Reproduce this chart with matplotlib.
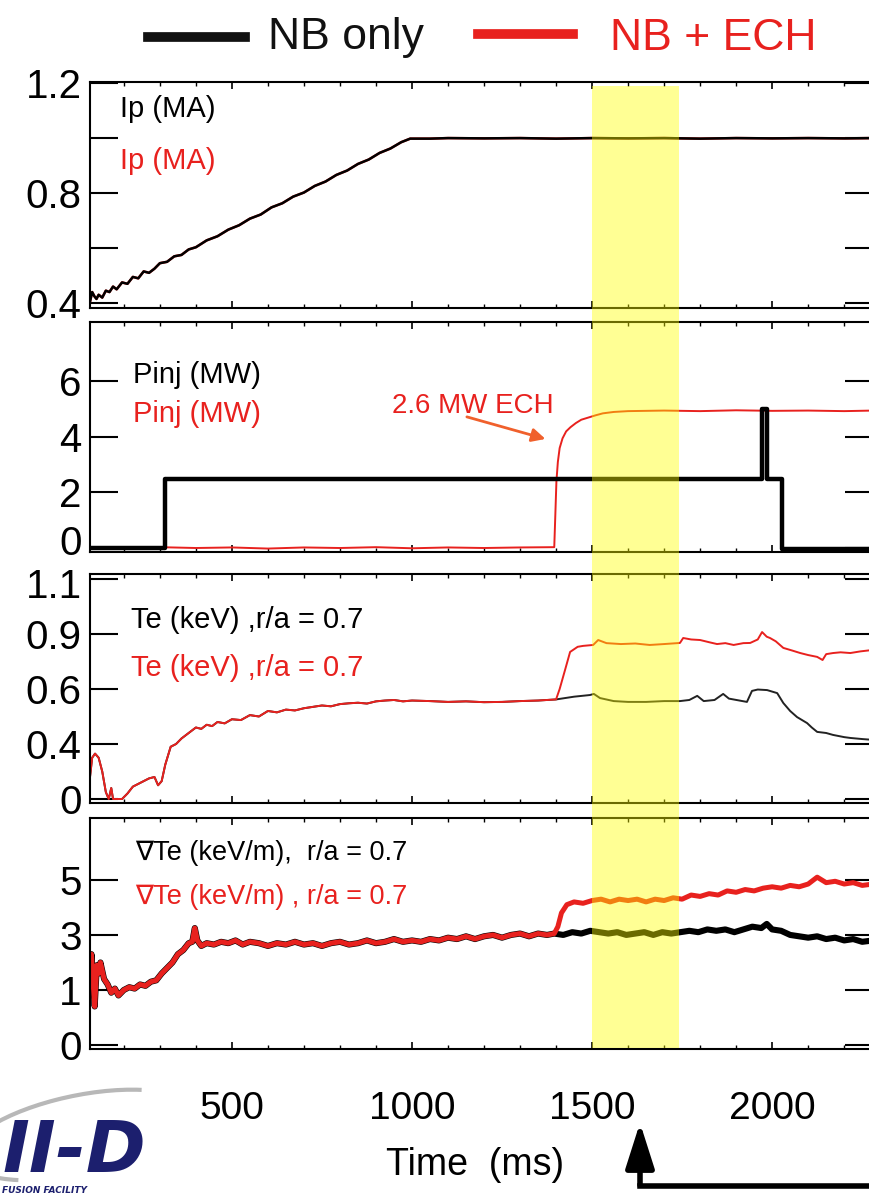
import numpy as np
import matplotlib
matplotlib.use('Agg')
import matplotlib.pyplot as plt
from matplotlib.lines import Line2D
from matplotlib.patches import Rectangle, FancyArrowPatch, Arc
from matplotlib.ticker import MultipleLocator
from matplotlib.transforms import blended_transform_factory, ScaledTranslation

W, H = 869, 1196
RED = '#e8211e'
NAVY = '#1c1f6e'
plt.rcParams['font.family'] = ['Liberation Sans', 'DejaVu Sans']

# ---- data (time in ms) ----
ip_t = [106, 112, 118, 124, 130, 140, 150, 160, 170, 180, 195, 210, 225, 240, 255,
        270, 285, 300, 320, 340, 360, 380, 400, 430, 460, 490, 520, 550, 580, 610,
        640, 670, 700, 730, 760, 790, 820, 850, 880, 910, 940, 970, 995, 1050, 1100,
        1200, 1300, 1400, 1500, 1600, 1700, 1800, 1900, 2000, 2100, 2200, 2280]
ip = [0.405, 0.44, 0.425, 0.415, 0.43, 0.42, 0.445, 0.44, 0.46, 0.45, 0.475, 0.47,
      0.495, 0.49, 0.515, 0.51, 0.525, 0.545, 0.55, 0.57, 0.575, 0.595, 0.603, 0.628,
      0.643, 0.667, 0.683, 0.707, 0.722, 0.748, 0.763, 0.787, 0.802, 0.826, 0.842,
      0.866, 0.882, 0.906, 0.922, 0.946, 0.962, 0.985, 0.998, 0.998, 1.0, 0.999, 1.0,
      0.998, 1.0, 0.999, 1.0, 0.998, 1.0, 0.999, 1.0, 0.999, 1.0]

pinj_nb_t = [106, 315, 1972, 1986, 2028, 2280]
pinj_nb = [0.0, 2.5, 5.0, 2.5, -0.05, -0.05]

pinj_ech_t = [106, 200, 300, 400, 500, 600, 700, 800, 900, 1000, 1100, 1200, 1300, 1395,
              1398, 1401, 1405, 1410, 1418, 1428, 1440, 1455, 1470, 1490, 1510, 1530,
              1560, 1600, 1700, 1800, 1900, 2000, 2100, 2200, 2280]
pinj_ech = [0.02, -0.02, 0.03, 0.0, 0.02, -0.02, 0.02, 0.0, 0.03, -0.01, 0.02, 0.0, 0.02,
            0.03, 1.2, 2.4, 3.1, 3.6, 3.95, 4.2, 4.35, 4.5, 4.62, 4.7, 4.78, 4.85, 4.9,
            4.93, 4.95, 4.93, 4.96, 4.94, 4.95, 4.93, 4.95]

# Te (keV), common part before ECH
te_t0 = [106, 112, 120, 130, 140, 150, 158, 165, 170, 180, 195, 210, 225, 240, 255, 270,
         285, 295, 305, 315, 330, 345, 360, 380, 400, 415, 430, 445, 460, 480, 500, 525,
         550, 575, 600, 625, 650, 675, 700, 725, 750, 775, 800, 825, 850, 875, 900, 925,
         950, 975, 1000, 1050, 1100, 1150, 1200, 1250, 1300, 1350, 1400]
te_0 = [0.16, 0.30, 0.33, 0.30, 0.20, 0.05, 0.0, 0.08, 0.0, 0.0, 0.0, 0.04, 0.09, 0.11,
        0.13, 0.15, 0.16, 0.10, 0.13, 0.25, 0.38, 0.40, 0.42, 0.44, 0.46, 0.455, 0.47,
        0.465, 0.48, 0.475, 0.49, 0.487, 0.505, 0.50, 0.52, 0.515, 0.525, 0.522, 0.53,
        0.535, 0.54, 0.537, 0.545, 0.548, 0.55, 0.547, 0.555, 0.558, 0.56, 0.555, 0.558,
        0.556, 0.553, 0.555, 0.552, 0.553, 0.556, 0.558, 0.562]
te_nb_t = [1450, 1494, 1505, 1522, 1560, 1600, 1650, 1700, 1744, 1770, 1792, 1810, 1840,
           1864, 1880, 1930, 1944, 1960, 1986, 2014, 2031, 2050, 2069, 2097, 2110, 2125,
           2150, 2169, 2200, 2217, 2250, 2280]
te_nb = [0.572, 0.578, 0.582, 0.567, 0.556, 0.553, 0.553, 0.556, 0.556, 0.56, 0.575,
         0.556, 0.56, 0.582, 0.565, 0.553, 0.593, 0.598, 0.596, 0.585, 0.549, 0.52, 0.498,
         0.476, 0.46, 0.444, 0.44, 0.433, 0.425, 0.422, 0.418, 0.415]
te_ech_t = [1410, 1425, 1439, 1460, 1475, 1503, 1517, 1540, 1580, 1620, 1660, 1700, 1744,
            1753, 1775, 1800, 1825, 1847, 1870, 1893, 1920, 1939, 1960, 1972, 1985, 1994,
            2010, 2031, 2055, 2078, 2100, 2125, 2140, 2150, 2169, 2190, 2217, 2245, 2280]
te_ech = [0.60, 0.704, 0.802, 0.83, 0.835, 0.84, 0.867, 0.85, 0.845, 0.848, 0.84, 0.845,
          0.851, 0.878, 0.87, 0.867, 0.855, 0.845, 0.85, 0.84, 0.85, 0.851, 0.87, 0.907,
          0.885, 0.878, 0.86, 0.824, 0.81, 0.796, 0.785, 0.775, 0.758, 0.79, 0.796, 0.80,
          0.796, 0.805, 0.813]

# grad Te (keV/m), common part before ECH
gt_t0 = [106, 110, 115, 119, 125, 130, 135, 145, 155, 165, 175, 185, 200, 215, 230, 245,
         260, 275, 290, 305, 320, 335, 350, 365, 380, 390, 397, 404, 415, 430, 450, 470,
         490, 510, 530, 550, 575, 600, 625, 650, 675, 700, 725, 750, 775, 800, 825, 850,
         875, 900, 925, 950, 975, 1000, 1025, 1050, 1075, 1100, 1125, 1150, 1175, 1200,
         1225, 1250, 1275, 1300, 1325, 1350, 1375, 1395]
gt_0 = [1.5, 2.3, 1.2, 0.7, 1.9, 1.6, 2.0, 1.4, 1.2, 0.95, 1.05, 0.9, 1.0, 1.1, 1.05, 1.2,
        1.15, 1.3, 1.35, 1.6, 1.8, 2.0, 2.3, 2.45, 2.7, 2.75, 3.25, 2.8, 2.6, 2.7, 2.65,
        2.75, 2.7, 2.8, 2.65, 2.75, 2.7, 2.6, 2.7, 2.65, 2.75, 2.65, 2.7, 2.6, 2.7, 2.75,
        2.65, 2.7, 2.8, 2.7, 2.75, 2.85, 2.75, 2.8, 2.75, 2.85, 2.8, 2.9, 2.85, 2.95, 2.85,
        2.95, 3.0, 2.9, 3.0, 3.05, 2.95, 3.05, 3.0, 3.05]
gt_nb_t = [1420, 1445, 1470, 1495, 1520, 1545, 1570, 1595, 1620, 1645, 1670, 1695, 1720,
           1745, 1770, 1795, 1820, 1845, 1870, 1895, 1920, 1945, 1970, 1985, 2000, 2025,
           2050, 2075, 2100, 2125, 2150, 2175, 2200, 2225, 2250, 2280]
gt_nb = [3.0, 3.1, 3.05, 3.15, 3.1, 3.05, 3.1, 3.0, 3.05, 3.1, 3.0, 3.1, 3.05, 3.1, 3.15,
         3.1, 3.2, 3.15, 3.2, 3.1, 3.2, 3.3, 3.25, 3.4, 3.2, 3.15, 3.0, 2.95, 2.9, 2.95,
         2.85, 2.9, 2.8, 2.85, 2.75, 2.8]
gt_ech_t = [1405, 1415, 1430, 1450, 1475, 1500, 1525, 1550, 1575, 1600, 1625, 1650, 1675,
            1700, 1725, 1750, 1775, 1800, 1825, 1850, 1875, 1900, 1925, 1950, 1975, 2000,
            2025, 2050, 2075, 2100, 2125, 2150, 2175, 2200, 2225, 2250, 2280]
gt_ech = [3.3, 3.8, 4.1, 4.2, 4.15, 4.25, 4.3, 4.2, 4.3, 4.25, 4.3, 4.2, 4.3, 4.25, 4.35,
          4.3, 4.45, 4.4, 4.5, 4.45, 4.6, 4.55, 4.65, 4.6, 4.7, 4.75, 4.7, 4.8, 4.75, 4.85,
          5.1, 4.9, 4.95, 4.85, 4.9, 4.8, 4.85]

te_ticks = [0, 0.4, 0.6, 0.9, 1.1]
gt_ticks = [0, 1, 3, 5]
band = (1500, 1740)


def px(x, y):
    return x / W, 1 - y / H


def knot_scale(ax, knots):
    # the original axes have evenly spaced ticks with uneven values
    vals = np.asarray(knots, float)
    idx = np.arange(len(vals)) - 1.0
    ax.set_yscale('function', functions=(lambda v: np.interp(v, vals, idx),
                                         lambda i: np.interp(i, idx, vals)))


def nudge(label, dy_px):
    label.set_transform(label.get_transform() + ScaledTranslation(0, dy_px / 100,
                                                                  fig.dpi_scale_trans))


fig = plt.figure(figsize=(W / 100, H / 100), dpi=100)
boxes = [(82, 308), (322, 552), (574, 803), (818, 1049)]
axes = []
for top, bot in boxes:
    ax = fig.add_axes([90 / W, 1 - bot / H, 783 / W, (bot - top) / H])
    ax.set_xlim(106, 2280)
    for s in ax.spines.values():
        s.set_linewidth(1.5)
    ax.xaxis.set_major_locator(MultipleLocator(500))
    ax.xaxis.set_minor_locator(MultipleLocator(100))
    ax.tick_params(axis='x', which='major', direction='in', top=True, bottom=True,
                   length=5, width=1.2, labelbottom=False)
    ax.tick_params(axis='x', which='minor', direction='in', top=True, bottom=True,
                   length=3, width=1)
    ax.tick_params(axis='y', direction='in', left=True, right=True, length=20,
                   width=1.5, labelsize=29, pad=6)
    axes.append(ax)
ax1, ax2, ax3, ax4 = axes

# Ip
ax1.plot(ip_t, ip, color=RED, lw=1.8)
ax1.plot(ip_t, ip, color='black', lw=1.8)
ax1.set_ylim(0.382, 1.204)
ax1.set_yticks([0.4, 0.6, 0.8, 1.0, 1.2])
ax1.set_yticklabels(['0.4', '', '0.8', '', '1.2'])
ax1.text(0.038, 0.88, 'Ip (MA)', transform=ax1.transAxes, fontsize=21,
         color='black', va='center')
ax1.text(0.038, 0.65, 'Ip (MA)', transform=ax1.transAxes, fontsize=21, color=RED,
         va='center')

# Pinj
ax2.plot(pinj_ech_t, pinj_ech, color=RED, lw=1.4)
ax2.plot(pinj_nb_t, pinj_nb, color='black', lw=3.2, drawstyle='steps-post')
ax2.set_ylim(-0.144, 8.14)
ax2.set_yticks([0, 2, 4, 6])
ax2.text(0.055, 0.77, 'Pinj (MW)', transform=ax2.transAxes, fontsize=21,
         color='black', va='center')
ax2.text(0.055, 0.60, 'Pinj (MW)', transform=ax2.transAxes, fontsize=21, color=RED,
         va='center')
ax2.annotate('', xy=(1378, 3.9), xytext=(1145, 4.75),
             arrowprops=dict(arrowstyle='-|>,head_length=0.8,head_width=0.4',
                             color='#f0602c', lw=2))
ax2.text(1169, 5.1, '2.6 MW ECH', color=RED, fontsize=20, ha='center', va='center')

# Te
knot_scale(ax3, [-0.4] + te_ticks + [1.3])
ax3.plot(te_t0 + te_nb_t, te_0 + te_nb, color='#222222', lw=1.4)
ax3.plot(te_t0 + te_ech_t, te_0 + te_ech, color=RED, lw=1.4)
ax3.set_ylim(-0.029, 1.118)
ax3.set_yticks(te_ticks)
ax3.set_yticklabels(['0', '0.4', '0.6', '0.9', '1.1'])
ax3.text(0.052, 0.80, 'Te (keV) ,r/a = 0.7', transform=ax3.transAxes, fontsize=21,
         color='black', va='center')
ax3.text(0.052, 0.59, 'Te (keV) ,r/a = 0.7', transform=ax3.transAxes, fontsize=21,
         color=RED, va='center')

# grad Te
knot_scale(ax4, [-1] + gt_ticks + [7, 9])
ax4.plot(gt_t0 + gt_nb_t, gt_0 + gt_nb, color='black', lw=4.4)
ax4.plot(gt_t0 + gt_ech_t, gt_0 + gt_ech, color=RED, lw=3.6)
ax4.set_ylim(-0.073, 7.25)
ax4.set_yticks(gt_ticks)
ax4.text(0.058, 0.85, '\u2207Te (keV/m),  r/a = 0.7', transform=ax4.transAxes,
         fontsize=19.5, color='black', va='center')
ax4.text(0.058, 0.66, '\u2207Te (keV/m) , r/a = 0.7', transform=ax4.transAxes,
         fontsize=19.5, color=RED, va='center')
ax4.tick_params(axis='x', labelbottom=True, labelsize=28, pad=30)

# keep neighbouring y labels at panel joints apart
nudge(ax2.get_yticklabels()[0], 8)
nudge(ax3.get_yticklabels()[-1], -4)

# yellow window over all panels
tr = blended_transform_factory(ax4.transData, fig.transFigure)
y0 = px(0, 1048)[1]
y1 = px(0, 86)[1]
fig.add_artist(Rectangle((band[0], y0), band[1] - band[0], y1 - y0, transform=tr,
                         facecolor=(1, 1, 0), alpha=0.42, lw=0, zorder=5))

# legend on top
fig.add_artist(Line2D([px(148, 0)[0], px(245, 0)[0]], [px(0, 37)[1]] * 2, color='#111111',
                      lw=7, transform=fig.transFigure))
fig.add_artist(Line2D([px(478, 0)[0], px(573, 0)[0]], [px(0, 34)[1]] * 2, color=RED,
                      lw=7, transform=fig.transFigure))
fig.text(*px(268, 38), 'NB only', fontsize=32, va='center', ha='left', color='#111111')
fig.text(*px(610, 38), 'NB + ECH', fontsize=32, va='center', ha='left', color=RED)

fig.text(*px(475, 1165), 'Time  (ms)', fontsize=27, ha='center', va='center')

# logo fragment bottom left
fig.add_artist(Arc(px(80, 1135), 230 / W, 80 / H, angle=8, theta1=20, theta2=200,
                   transform=fig.transFigure, color='#b8b8b8', lw=3))
fig.text(*px(2, 1172), 'II-D', fontsize=52, fontweight='bold', style='italic',
         color=NAVY, ha='left', va='baseline', family='DejaVu Sans')
fig.text(*px(2, 1193), 'FUSION FACILITY', fontsize=6.5, fontweight='bold',
         style='italic', color=NAVY, ha='left', va='baseline', family='DejaVu Sans')

# arrow at the bottom
fig.add_artist(Line2D([px(640, 0)[0], px(875, 0)[0]], [px(0, 1186)[1]] * 2,
                      color='black', lw=4, transform=fig.transFigure))
fig.add_artist(FancyArrowPatch(px(640, 1188), px(640, 1120), transform=fig.transFigure,
                               arrowstyle='-|>,head_length=1.1,head_width=0.35',
                               mutation_scale=25, color='black', lw=4))

fig.savefig('out.png', dpi=100)
